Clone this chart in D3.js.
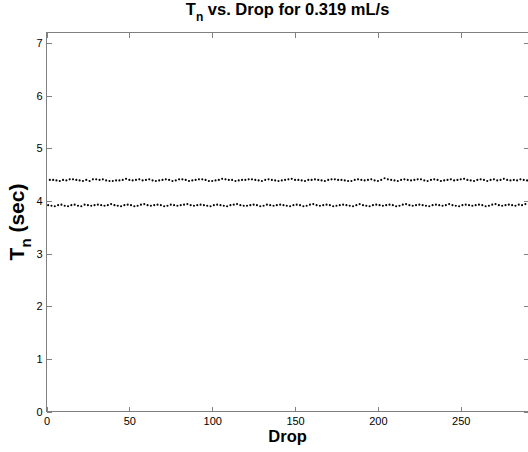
<!DOCTYPE html>
<html>
<head>
<meta charset="utf-8">
<script src="https://cdn.jsdelivr.net/npm/d3@7"></script>
<style>
  html, body { margin: 0; padding: 0; background: #fff; }
  svg { display: block; }
</style>
</head>
<body>
<svg id="chart" width="528" height="452"></svg>
<script>
// ---- Data ----
const titleText = "vs. Drop for 0.319 mL/s";
const xTicks = [0, 50, 100, 150, 200, 250];
const yTicks = [0, 1, 2, 3, 4, 5, 6, 7];

// T_n for odd drops (1,3,5,...) — lower band
const lowerT = [
  3.92,3.91,3.90,3.92,3.93,3.91,3.90,3.92,3.93,3.91,
  3.90,3.93,3.92,3.91,3.92,3.93,3.92,3.91,3.92,3.94,
  3.92,3.91,3.90,3.92,3.93,3.92,3.90,3.91,3.93,3.94,
  3.92,3.91,3.92,3.93,3.92,3.90,3.91,3.93,3.92,3.91,
  3.92,3.93,3.94,3.92,3.91,3.92,3.93,3.92,3.91,3.90,
  3.92,3.93,3.92,3.91,3.90,3.92,3.93,3.94,3.92,3.91,
  3.91,3.92,3.93,3.92,3.90,3.91,3.93,3.92,3.91,3.92,
  3.93,3.92,3.91,3.90,3.92,3.93,3.92,3.90,3.91,3.93,
  3.94,3.92,3.91,3.92,3.93,3.92,3.90,3.91,3.92,3.93,
  3.92,3.91,3.90,3.92,3.94,3.92,3.91,3.90,3.92,3.93,
  3.92,3.91,3.92,3.93,3.92,3.90,3.91,3.93,3.94,3.92,
  3.91,3.92,3.93,3.92,3.91,3.90,3.92,3.93,3.92,3.91,
  3.92,3.94,3.92,3.91,3.90,3.92,3.93,3.92,3.91,3.92,
  3.93,3.92,3.90,3.91,3.93,3.94,3.92,3.91,3.92,3.93,
  3.92,3.91,3.93,3.92,3.94
];
// T_n for even drops (2,4,6,...) — upper band
const upperT = [
  4.40,4.40,4.39,4.38,4.40,4.39,4.41,4.41,4.40,4.39,
  4.38,4.40,4.38,4.41,4.41,4.40,4.41,4.39,4.38,4.38,
  4.39,4.39,4.40,4.42,4.40,4.39,4.40,4.41,4.39,4.40,
  4.41,4.39,4.38,4.39,4.40,4.41,4.40,4.38,4.39,4.41,
  4.41,4.40,4.38,4.39,4.40,4.41,4.41,4.40,4.38,4.38,
  4.39,4.40,4.42,4.41,4.40,4.40,4.38,4.39,4.40,4.40,
  4.41,4.41,4.40,4.39,4.38,4.40,4.41,4.40,4.39,4.38,
  4.39,4.40,4.41,4.42,4.40,4.40,4.39,4.38,4.40,4.40,
  4.41,4.40,4.39,4.38,4.40,4.41,4.41,4.40,4.40,4.39,
  4.38,4.38,4.40,4.41,4.40,4.39,4.40,4.41,4.39,4.38,
  4.40,4.43,4.41,4.40,4.39,4.38,4.40,4.41,4.40,4.39,
  4.40,4.41,4.41,4.39,4.38,4.40,4.41,4.40,4.38,4.39,
  4.40,4.41,4.39,4.40,4.41,4.42,4.40,4.39,4.38,4.40,
  4.41,4.40,4.38,4.40,4.41,4.39,4.40,4.42,4.40,4.39,
  4.40,4.39,4.41,4.40,4.39
];

// ---- Chart ----
const svg = d3.select("#chart");
const mLeft = 46.5, mRight = 528.7, mTop = 32.5, mBottom = 411.5;
const x = d3.scaleLinear().domain([0, 291]).range([mLeft, mRight]);
const y = d3.scaleLinear().domain([0, 7.2]).range([mBottom, mTop]);

const points = [];
lowerT.forEach((v, i) => points.push({ drop: 2 * i + 1, t: v }));
upperT.forEach((v, i) => points.push({ drop: 2 * i + 2, t: v }));

const axisColor = "#808080";
const font = "Liberation Sans, Arial, sans-serif";

// frame
svg.append("rect")
  .attr("x", mLeft).attr("y", mTop)
  .attr("width", mRight - mLeft).attr("height", mBottom - mTop)
  .attr("fill", "none").attr("stroke", axisColor).attr("stroke-width", 1)
  .attr("shape-rendering", "crispEdges");

// axes (ticks inward)
const tl = 5;
const xAxis = d3.axisBottom(x).tickValues(xTicks).tickSize(-tl).tickPadding(6).tickSizeOuter(0);
const gx = svg.append("g").attr("transform", `translate(0,${mBottom})`).call(xAxis);
const xTopAxis = d3.axisTop(x).tickValues(xTicks).tickSize(-tl).tickFormat("").tickSizeOuter(0);
const gxt = svg.append("g").attr("transform", `translate(0,${mTop})`).call(xTopAxis);
const yAxis = d3.axisLeft(y).tickValues(yTicks).tickSize(-tl).tickPadding(4).tickSizeOuter(0);
const gy = svg.append("g").attr("transform", `translate(${mLeft},0)`).call(yAxis);
const yRightAxis = d3.axisRight(y).tickValues(yTicks).tickSize(-tl).tickFormat("").tickSizeOuter(0);
const gyr = svg.append("g").attr("transform", `translate(${mRight},0)`).call(yRightAxis);

[gx, gxt, gy, gyr].forEach(g => {
  g.select(".domain").remove();
  g.selectAll(".tick line").attr("stroke", axisColor).attr("shape-rendering", "crispEdges");
  g.selectAll(".tick text").attr("fill", "#000").attr("font-family", font).attr("font-size", 11);
});

// points
svg.append("g").selectAll("circle").data(points).join("circle")
  .attr("cx", d => x(d.drop)).attr("cy", d => y(d.t))
  .attr("r", 1.05).attr("fill", "#000");

// title
const title = svg.append("text")
  .attr("x", (mLeft + mRight) / 2).attr("y", 15)
  .attr("text-anchor", "middle")
  .attr("font-family", font).attr("font-size", 16.5).attr("font-weight", "bold").attr("fill", "#000");
title.append("tspan").text("T");
title.append("tspan").attr("dy", 6).attr("font-size", 12).text("n");
title.append("tspan").attr("dy", -6).text(" " + titleText);

// x label
svg.append("text")
  .attr("x", (mLeft + mRight) / 2).attr("y", 442)
  .attr("text-anchor", "middle")
  .attr("font-family", font).attr("font-size", 16.5).attr("font-weight", "bold").attr("fill", "#000")
  .text("Drop");

// y label
const yl = svg.append("text")
  .attr("transform", `translate(24,${(mTop + mBottom) / 2}) rotate(-90)`)
  .attr("text-anchor", "middle")
  .attr("font-family", font).attr("font-size", 21).attr("font-weight", "bold").attr("fill", "#000");
yl.append("tspan").text("T");
yl.append("tspan").attr("dy", 7).attr("font-size", 15).text("n");
yl.append("tspan").attr("dy", -7).text(" (sec)");
</script>
</body>
</html>
